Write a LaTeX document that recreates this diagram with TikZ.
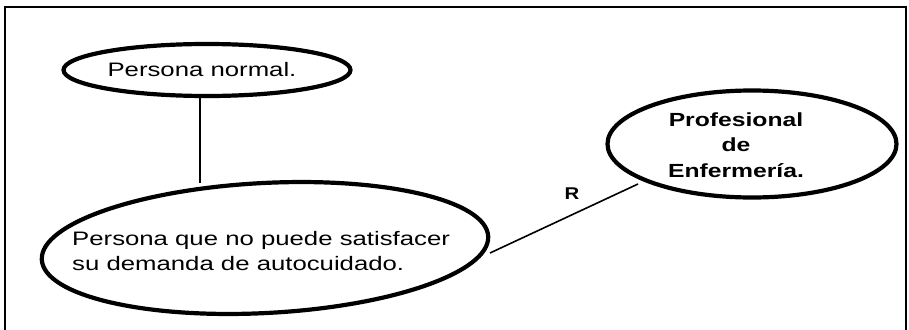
\documentclass[tikz,border=0pt]{standalone}
\usepackage{fontspec}
\setmainfont{Liberation Sans}
\usetikzlibrary{shapes.geometric}
\begin{document}
\begin{tikzpicture}[x=1pt,y=-1pt,
  oval/.style={draw,ellipse,line width=4.2pt,inner sep=0pt},
  conn/.style={line width=1.6pt},
  frame/.style={line width=2pt},
  txt/.style={font=\fontsize{19.5}{25}\selectfont,inner sep=0pt},
  btxt/.style={font=\fontsize{19}{25.5}\selectfont\bfseries,inner sep=0pt,align=center}]
\useasboundingbox (0,0) rectangle (909,329);
\fill[white] (0,0) rectangle (909,329);
% frame
\coordinate (fbl) at (5,330);
\coordinate (ftl) at (5,7.5);
\coordinate (ftr) at (906,7.5);
\coordinate (fbr) at (906,330);
\draw[frame] (fbl) -- (ftl) -- (ftr) -- (fbr);
% ellipses
\node[oval,minimum width=287pt,minimum height=52pt] (pn) at (207,70) {};
\node[oval,minimum width=447pt,minimum height=130pt,rotate=3] (pq) at (265,248) {};
\node[oval,minimum width=289pt,minimum height=107pt] (pe) at (752,144) {};
% texts
\node[txt] (tpn) at (202,70) {\scalebox{1.32}[1]{Persona normal.}};
\node[txt,anchor=west] (tpq) at (72,253) {\scalebox{1.32}[1]{\begin{tabular}{@{}l@{}}Persona que no puede satisfacer\\su demanda de autocuidado.\end{tabular}}};
\node[btxt] (tpe) at (736,146.5) {\scalebox{1.3}[1]{\begin{tabular}{@{}c@{}}Profesional\\de\\Enfermería.\end{tabular}}};
% connectors
\draw[conn] (200,97) -- (200,183);
\coordinate (ra) at (490,253);
\coordinate (rb) at (638,184);
\draw[conn] (ra) -- (rb);
\node[font=\fontsize{17}{18}\selectfont\bfseries,inner sep=0pt] (r) at (572,194) {\scalebox{1.2}[1]{R}};
\end{tikzpicture}
\end{document}
